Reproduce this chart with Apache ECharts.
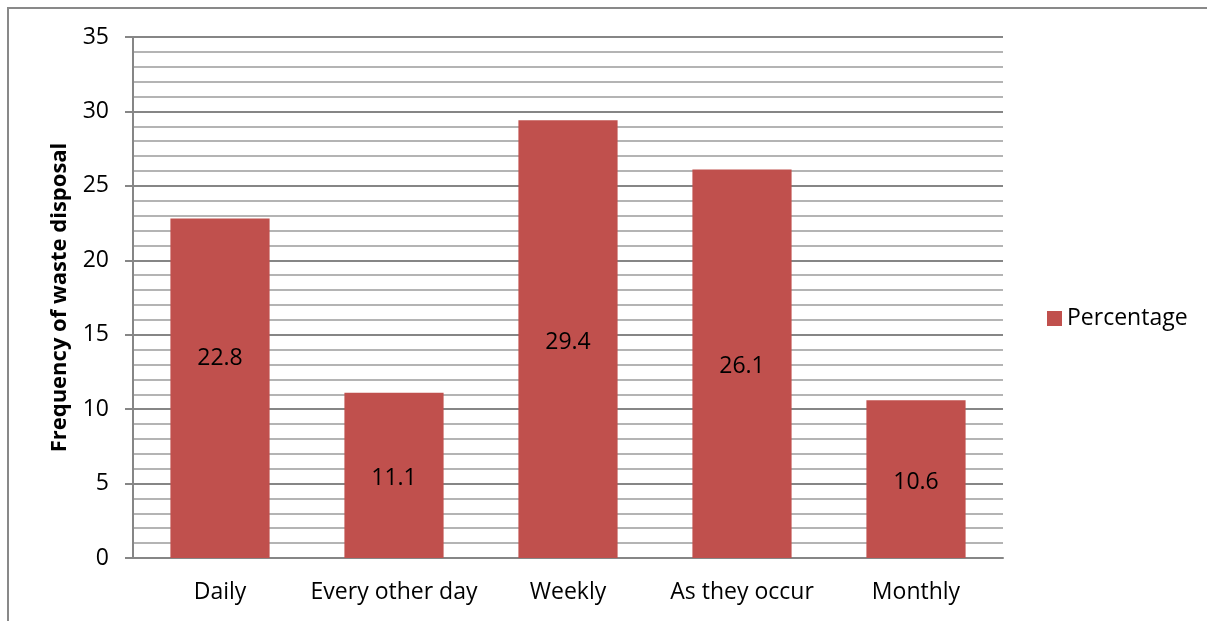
<!DOCTYPE html>
<html><head><meta charset="utf-8">
<script src="https://cdn.jsdelivr.net/npm/echarts@6/dist/echarts.min.js"></script>
<style>html,body{margin:0;padding:0;background:#fff}#c{width:1207px;height:621px}</style>
</head><body><div id="c"></div>
<script>
const categories = ['Daily', 'Every other day', 'Weekly', 'As they occur', 'Monthly'];
const percentage = [22.8, 11.1, 29.4, 26.1, 10.6];
const yTicks = [0, 5, 10, 15, 20, 25, 30, 35];
const seriesName = 'Percentage';
const yAxisTitle = 'Frequency of waste disposal';

const FONT = '"Open Sans", sans-serif';
const FS = 23;
const chart = echarts.init(document.getElementById('c'));
chart.setOption({
  animation: false,
  textStyle: {fontFamily: FONT},
  grid: {left: 133, right: 204, top: 37, bottom: 63, containLabel: false},
  legend: {
    data: [seriesName], left: 1042, top: 302, orient: 'vertical',
    itemWidth: 15, itemHeight: 15, itemGap: 6,
    textStyle: {fontSize: FS, color: '#000', fontFamily: FONT},
    icon: 'rect'
  },
  xAxis: {
    type: 'category', data: categories,
    axisLine: {lineStyle: {color: '#868686', width: 2}},
    axisTick: {show: false},
    axisLabel: {fontSize: FS, color: '#000', margin: 23, interval: 0, fontFamily: FONT}
  },
  yAxis: {
    type: 'value', min: yTicks[0], max: yTicks[yTicks.length - 1], interval: 5,
    name: yAxisTitle, nameLocation: 'middle', nameGap: 62,
    nameTextStyle: {fontSize: 22, fontWeight: 'bold', color: '#000', fontFamily: FONT},
    axisLine: {show: true, lineStyle: {color: '#868686', width: 2}},
    axisTick: {show: true, length: 8, lineStyle: {color: '#868686', width: 2}},
    axisLabel: {fontSize: FS, color: '#000', margin: 24, fontFamily: FONT},
    splitLine: {lineStyle: {color: '#868686', width: 2}},
    minorTick: {show: false, splitNumber: 5},
    minorSplitLine: {show: true, lineStyle: {color: '#b4b4b4', width: 2}}
  },
  series: [{
    name: seriesName, type: 'bar', barWidth: '57%',
    itemStyle: {color: '#C0504D'},
    data: percentage.map((v, i) => i === 0 ? {value: v, label: {offset: [0, -30]}} : v),
    label: {show: true, position: 'inside', offset: [0, 3], fontSize: FS, color: '#000', fontFamily: FONT}
  }],
  graphic: [{
    type: 'polyline', silent: true,
    shape: {points: [[8, 621], [8, 8], [1207, 8]]},
    style: {stroke: '#898989', lineWidth: 2, fill: null}
  }]
});
</script></body></html>
